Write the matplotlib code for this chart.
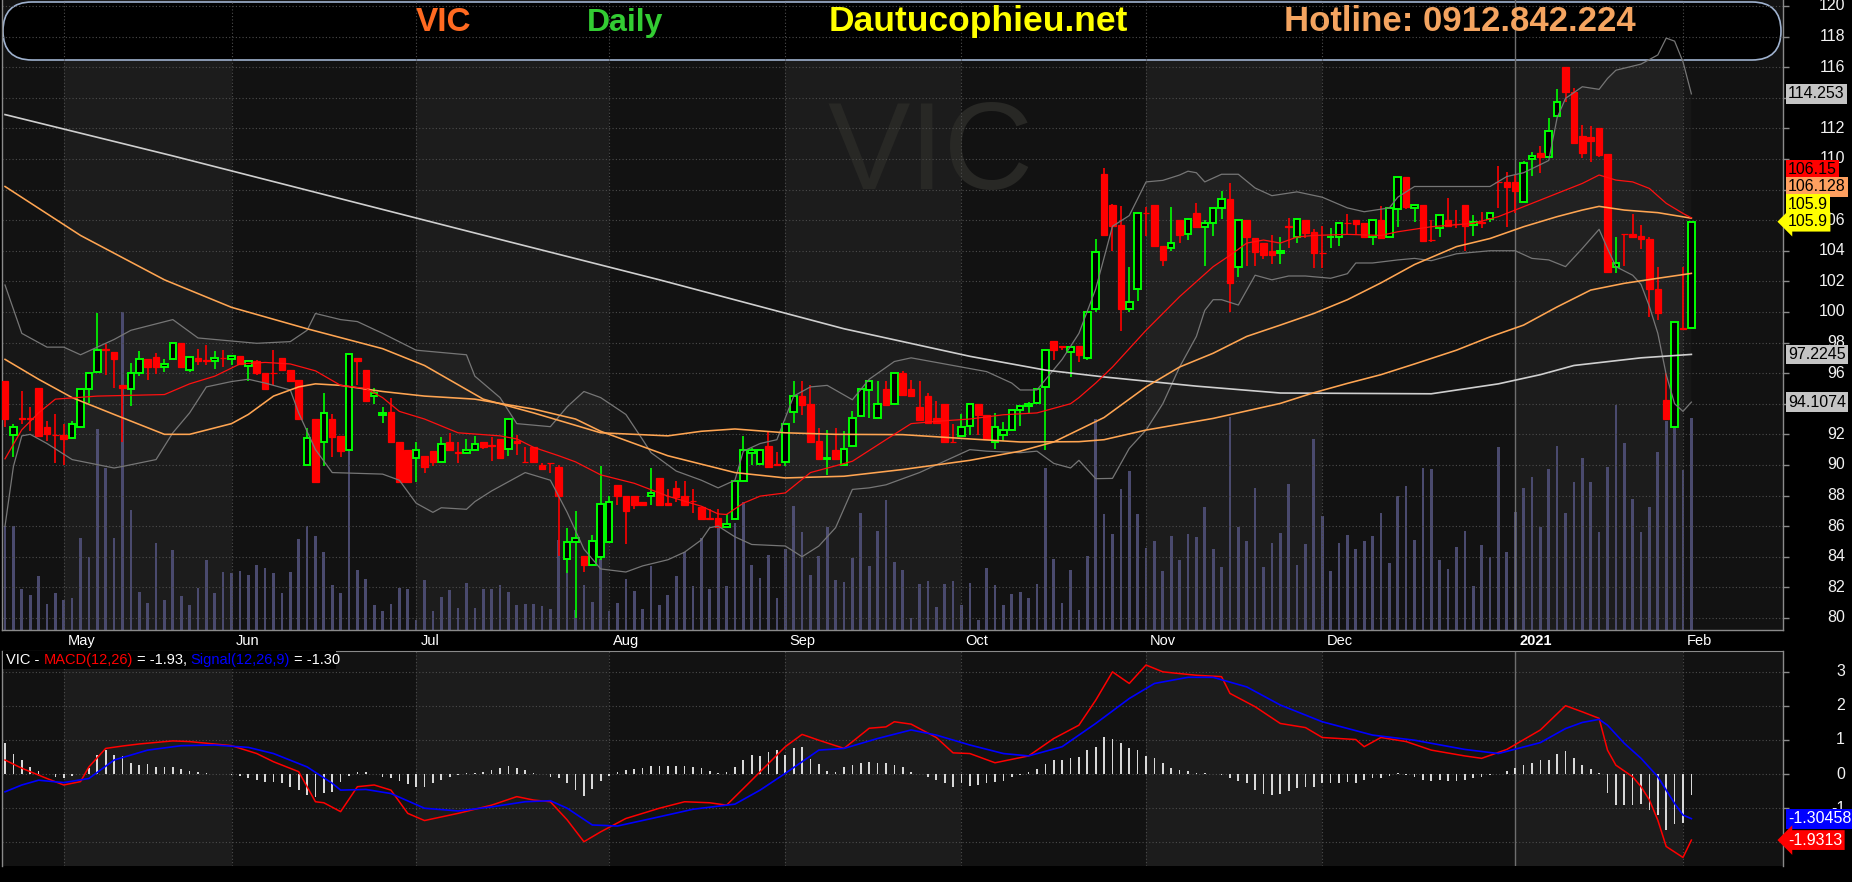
import numpy as np
import matplotlib
matplotlib.use("Agg")
import matplotlib.pyplot as plt
from matplotlib.patches import FancyBboxPatch, Rectangle
from matplotlib.transforms import IdentityTransform, blended_transform_factory

plt.rcParams['font.family'] = ['Liberation Sans', 'DejaVu Sans']

# ---------------- data (VIC daily) ----------------
opens = [95.5, 91.96, 93.05, 93.05, 95.0, 92.5, 91.97, 91.95, 91.75, 92.5,
         94.95, 96.1, 97.55, 97.4, 95.2, 94.95, 96.0, 96.95, 97.05, 96.4,
         96.95, 97.95, 96.2, 97.0, 96.85, 96.8, 97.02, 96.95, 97.15, 96.45,
         96.8, 96.0, 96.02, 97.0, 96.2, 95.55, 89.98, 93.0, 91.5, 93.0,
         91.9, 90.95, 97.0, 96.2, 94.5, 93.25, 93.45, 91.5, 91.0, 90.45,
         90.6, 90.9, 90.2, 91.5, 90.82, 90.8, 90.95, 91.5, 91.27, 91.7,
         91.05, 91.55, 90.22, 91.2, 90.0, 90.12, 89.85, 83.85, 84.95, 84.05,
         83.45, 84.0, 84.98, 88.67, 88.0, 88.0, 87.59, 87.96, 89.15, 87.48,
         88.5, 88.0, 87.65, 87.24, 86.5, 86.54, 85.96, 86.48, 88.98, 90.78,
         90.07, 91.26, 90.04, 90.17, 93.46, 94.52, 93.98, 91.59, 90.41, 91.0,
         90.02, 91.22, 93.17, 94.91, 93.07, 94.96, 93.98, 96.0, 94.96, 93.78,
         94.52, 93.07, 93.98, 91.52, 91.87, 92.52, 93.98, 93.28, 91.5, 91.96,
         92.26, 93.61, 93.83, 94.04, 95.09, 98.07, 97.76, 97.35, 97.78, 96.98,
         100.16, 109.01, 106.98, 105.68, 100.17, 101.47, 106.46, 106.98, 104.3, 104.15,
         106.0, 105.07, 106.44, 105.57, 105.79, 106.77, 107.38, 102.96, 106.0, 104.81,
         104.48, 103.98, 103.87, 105.59, 104.92, 106.0, 105.2, 103.85, 104.88, 104.92,
         105.81, 106.0, 105.79, 104.92, 106.0, 104.87, 106.7, 108.84, 106.77, 106.98,
         104.72, 105.46, 106.01, 105.75, 106.99, 105.66, 105.86, 106.07, 108.49, 108.47,
         108.47, 107.16, 110.0, 110.37, 110.11, 112.8, 116.03, 114.4, 111.5, 111.41,
         112.0, 110.32, 102.96, 105.12, 105.1, 104.96, 104.77, 101.5, 94.24, 92.46,
         98.95, 98.93]
highs = [95.5, 92.7, 94.85, 93.8, 95.0, 92.85, 93.35, 92.7, 92.85, 95.0,
         96.0, 99.95, 97.9, 97.4, 95.2, 96.65, 97.45, 96.95, 97.3, 96.9,
         97.95, 97.95, 97.05, 97.55, 97.85, 97.45, 97.5, 97.15, 97.15, 96.8,
         96.85, 96.0, 97.5, 97.0, 96.2, 95.55, 92.4, 93.0, 94.7, 93.35,
         91.9, 97.25, 97.0, 96.2, 95.0, 93.8, 94.4, 91.5, 91.0, 91.5,
         90.6, 90.9, 91.85, 92.1, 91.5, 91.7, 91.9, 91.5, 91.85, 91.7,
         93.0, 91.95, 91.2, 91.2, 90.15, 90.12, 90.0, 85.9, 87.0, 84.05,
         85.45, 89.9, 87.95, 88.67, 88.0, 88.0, 87.59, 89.8, 89.15, 88.43,
         88.93, 88.93, 88.43, 87.24, 87.09, 87.09, 86.76, 88.93, 91.87, 91.1,
         90.96, 92.2, 90.83, 92.67, 95.5, 95.46, 95.24, 92.41, 92.26, 92.41,
         92.2, 93.54, 94.96, 95.46, 95.46, 95.46, 96.0, 96.15, 95.57, 95.46,
         94.7, 94.15, 93.98, 92.7, 93.33, 93.98, 93.98, 93.28, 93.39, 92.78,
         93.57, 93.83, 94.09, 94.96, 97.48, 98.07, 97.76, 97.74, 97.78, 100.02,
         104.8, 109.38, 107.05, 106.92, 102.91, 106.44, 106.87, 106.98, 104.3, 106.83,
         106.0, 106.11, 107.09, 106.0, 106.77, 107.9, 108.45, 106.0, 106.0, 104.81,
         104.48, 105.03, 104.87, 106.15, 106.11, 106.0, 105.4, 105.6, 105.47, 105.79,
         106.37, 106.0, 105.79, 106.0, 106.92, 106.77, 108.84, 108.84, 107.05, 106.98,
         106.0, 106.33, 107.42, 106.67, 106.99, 106.33, 106.5, 106.49, 109.53, 109.17,
         108.95, 109.88, 110.43, 110.85, 112.7, 114.57, 116.03, 114.62, 112.21, 112.15,
         112.0, 110.32, 104.88, 105.12, 106.41, 105.68, 104.88, 102.92, 95.98, 99.37,
         102.96, 105.9]
lows = [92.5, 90.5, 92.7, 92.2, 91.9, 91.55, 90.1, 90.0, 91.7, 92.5,
        94.05, 96.1, 95.9, 95.0, 91.5, 93.85, 95.8, 95.55, 95.95, 96.1,
        96.95, 96.4, 96.05, 96.55, 96.5, 96.3, 96.4, 96.5, 96.55, 95.5,
        95.9, 94.95, 95.2, 96.2, 95.4, 93.0, 89.9, 88.9, 89.9, 90.5,
        90.5, 90.95, 95.2, 94.15, 94.0, 92.75, 91.5, 88.9, 88.9, 88.9,
        89.5, 89.9, 90.2, 90.95, 90.1, 90.7, 90.95, 91.05, 90.25, 90.45,
        90.6, 90.65, 90.2, 90.2, 89.7, 89.5, 84.05, 82.95, 80.0, 83.0,
        83.45, 83.8, 84.98, 87.4, 84.8, 87.1, 87.3, 87.41, 87.41, 87.37,
        87.57, 87.3, 86.87, 86.48, 86.48, 85.96, 85.96, 86.48, 88.98, 90.0,
        90.07, 89.87, 90.02, 89.91, 92.74, 93.28, 91.48, 90.41, 89.37, 90.41,
        90.02, 91.22, 93.12, 93.07, 93.07, 93.93, 93.93, 94.54, 94.48, 92.96,
        92.74, 92.74, 91.48, 91.5, 91.87, 91.98, 91.98, 91.7, 91.04, 91.54,
        92.26, 92.52, 93.39, 94.04, 91.0, 96.87, 97.48, 95.78, 96.7, 96.83,
        100.0, 105.03, 103.98, 98.77, 100.02, 100.73, 104.96, 104.3, 103.02, 104.0,
        104.48, 104.7, 105.57, 103.02, 104.96, 106.07, 100.02, 102.26, 103.02, 103.02,
        103.44, 103.11, 103.11, 104.15, 104.52, 104.81, 102.85, 102.84, 104.19, 104.3,
        105.02, 105.02, 104.87, 104.37, 104.85, 104.87, 105.52, 106.7, 105.9, 104.59,
        104.54, 104.92, 105.57, 105.46, 104.0, 104.98, 105.46, 105.86, 106.77, 105.53,
        106.44, 107.16, 108.9, 109.06, 110.11, 112.8, 113.74, 111.06, 110.04, 109.82,
        110.15, 102.63, 102.52, 103.0, 104.92, 104.11, 99.65, 99.48, 92.98, 92.46,
        98.85, 98.93]
closes = [93.0, 92.48, 93.0, 93.0, 91.9, 92.0, 91.95, 91.7, 92.7, 94.95,
          96.0, 97.5, 97.5, 96.95, 95.0, 96.0, 96.95, 96.4, 96.4, 96.6,
          97.95, 96.4, 97.05, 96.8, 96.8, 97.0, 97.0, 97.15, 96.6, 96.8,
          96.0, 94.95, 96.0, 96.2, 95.5, 93.0, 91.75, 88.9, 93.4, 91.85,
          90.9, 97.25, 96.8, 94.15, 94.7, 93.4, 91.5, 88.9, 88.9, 91.0,
          89.85, 90.2, 91.35, 90.95, 90.8, 91.0, 91.35, 91.2, 91.25, 90.45,
          93.0, 91.45, 90.2, 90.2, 89.75, 90.1, 87.95, 84.95, 85.2, 83.45,
          85.0, 87.45, 87.57, 88.0, 86.98, 87.41, 87.41, 88.15, 87.41, 87.37,
          87.93, 87.37, 87.63, 86.48, 86.48, 85.96, 86.11, 88.93, 90.96, 90.96,
          90.96, 89.87, 90.02, 92.67, 94.48, 93.93, 91.48, 90.41, 90.43, 90.41,
          91.04, 93.07, 94.96, 95.46, 93.98, 93.93, 96.0, 94.54, 94.48, 92.96,
          92.74, 92.74, 91.48, 91.5, 92.48, 93.98, 93.24, 91.7, 92.48, 92.26,
          93.57, 93.83, 94.0, 94.96, 97.48, 97.52, 97.74, 97.74, 97.2, 100.02,
          103.93, 105.03, 105.61, 100.17, 100.67, 106.44, 106.44, 104.3, 103.39, 104.48,
          105.03, 106.05, 105.57, 105.79, 106.77, 107.38, 101.91, 106.0, 104.87, 103.93,
          103.72, 103.72, 103.98, 105.57, 106.05, 105.18, 103.87, 103.83, 104.9, 105.79,
          105.79, 105.74, 104.87, 106.0, 104.85, 106.77, 108.84, 106.83, 106.98, 104.65,
          104.7, 106.33, 105.64, 105.73, 105.64, 105.86, 105.84, 106.44, 108.47, 108.19,
          107.92, 109.71, 110.19, 110.11, 111.83, 113.74, 114.4, 111.06, 110.37, 111.19,
          110.26, 102.63, 103.22, 105.1, 104.92, 104.74, 101.48, 99.96, 92.98, 99.37,
          98.9, 105.9]
# volume, millions of shares
volume = [2.08, 2.08, 0.82, 0.70, 1.08, 0.52, 0.74, 0.60, 0.64, 1.84,
          1.46, 4.02, 3.24, 1.84, 6.36, 2.40, 0.76, 0.54, 1.74, 0.60,
          1.60, 0.68, 0.50, 0.84, 1.40, 0.74, 1.16, 1.14, 1.18, 1.10,
          1.30, 1.24, 1.14, 0.74, 1.16, 1.82, 2.08, 1.88, 1.56, 0.90,
          0.74, 3.80, 1.20, 1.02, 0.50, 0.38, 0.52, 0.84, 0.82, 0.20,
          1.00, 0.38, 0.66, 0.80, 0.44, 0.94, 0.44, 0.82, 0.82, 0.90,
          0.76, 0.50, 0.52, 0.52, 0.48, 0.42, 1.80, 1.20, 0.40, 0.90,
          0.56, 1.42, 0.38, 0.54, 1.02, 0.78, 0.42, 1.28, 0.50, 0.70,
          1.08, 1.56, 0.88, 1.84, 0.82, 2.04, 0.88, 2.14, 2.56, 1.30,
          1.04, 1.50, 0.64, 1.62, 2.48, 1.96, 1.10, 1.48, 2.06, 1.00,
          0.96, 1.44, 2.34, 1.28, 1.98, 2.60, 1.36, 1.20, 0.24, 0.92,
          0.98, 0.46, 0.92, 0.98, 0.50, 0.94, 0.20, 1.24, 0.90, 0.50,
          0.72, 0.76, 0.64, 0.92, 3.24, 1.42, 0.54, 1.20, 0.40, 1.48,
          4.22, 2.32, 1.92, 2.82, 3.18, 2.32, 1.64, 1.78, 1.18, 1.88,
          1.40, 1.92, 1.86, 2.46, 1.62, 1.26, 4.26, 2.06, 1.78, 2.84,
          1.26, 1.74, 1.94, 2.92, 1.30, 1.72, 3.82, 2.28, 1.18, 1.74,
          1.90, 1.62, 1.78, 1.88, 2.34, 1.34, 2.68, 2.88, 1.80, 3.24,
          3.22, 1.40, 1.22, 1.66, 1.98, 0.88, 1.70, 1.46, 3.66, 1.56,
          2.36, 2.84, 3.06, 2.06, 3.22, 3.68, 2.34, 2.96, 3.44, 2.96,
          1.96, 3.26, 4.50, 3.74, 2.62, 1.96, 2.46, 3.56, 4.18, 4.16,
          3.20, 4.24]

# indicator lines, sampled at bar index
ma20_x = [0, 2, 4, 6, 11, 19, 22, 25, 28, 31, 34, 37, 40, 43, 45, 47, 50, 54, 59, 61, 63,
          66, 68, 71, 75, 79, 83, 85, 86, 88, 90, 93, 96, 101, 105, 108, 111, 115, 119, 123,
          127, 128, 130, 132, 136, 140, 144, 146, 148, 150, 152, 154, 156, 160, 164, 166, 170,
          175, 178, 181, 185, 188, 190, 192, 194, 196, 198, 200, 201]
ma20_y = [90.4, 92.3, 93.4, 94.3, 94.5, 94.6, 95.3, 95.8, 96.6, 96.7, 96.6, 96.15, 95.2,
          95.0, 94.4, 93.5, 93.0, 92.1, 91.9, 91.7, 91.15, 90.6, 90.2, 89.35, 88.8, 87.96,
          87.3, 86.8, 86.76, 87.5, 87.96, 88.17, 89.5, 90.24, 91.65, 92.7, 92.85, 93.0,
          93.28, 93.4, 94.0, 94.4, 95.35, 96.4, 98.8, 101.0, 102.96, 103.7, 104.5, 104.7,
          104.5, 104.9, 105.0, 105.07, 105.0, 105.24, 105.57, 105.79, 106.23, 106.88,
          107.75, 108.4, 108.95, 108.62, 108.5, 108.07, 107.1, 106.44, 106.15]
ma50_x = [0, 4, 8, 13, 19, 22, 27, 29, 32, 35, 37, 40, 45, 50, 56, 63, 68, 71, 79, 87,
          93, 100, 107, 111, 115, 121, 125, 128, 131, 136, 140, 144, 148, 152, 156, 160,
          164, 168, 171, 173, 177, 181, 185, 188, 190, 193, 197, 201]
ma50_y = [96.9, 95.6, 94.4, 93.3, 92.0, 92.0, 92.7, 93.3, 94.5, 95.1, 95.3, 95.2, 94.8,
          94.5, 94.3, 93.65, 93.0, 92.2, 90.6, 89.5, 89.15, 89.26, 89.7, 90.0, 90.3, 90.9,
          91.5, 92.3, 93.1, 95.1, 96.4, 97.3, 98.4, 99.14, 99.9, 100.8, 101.9, 103.1, 103.8,
          104.27, 104.8, 105.57, 106.23, 106.66, 106.9, 106.66, 106.49, 106.128]
ma100_x = [0, 9, 19, 27, 36, 45, 50, 57, 63, 71, 79, 83, 87, 93, 99, 107, 115, 121, 128,
           131, 136, 144, 152, 156, 160, 164, 168, 173, 177, 181, 185, 189, 193, 197, 201]
ma100_y = [108.2, 105.0, 102.1, 100.3, 98.9, 97.6, 96.5, 94.3, 93.4, 92.1, 91.9, 92.2,
           92.35, 92.1, 92.0, 91.98, 91.7, 91.5, 91.52, 91.65, 92.28, 93.04, 94.02, 94.72,
           95.33, 95.9, 96.6, 97.5, 98.37, 99.14, 100.33, 101.43, 101.87, 102.2, 102.52]
ma200_x = [0, 20, 40, 60, 78, 100, 115, 124, 131, 142, 152, 170, 178, 183, 187, 195, 201]
ma200_y = [112.9, 110.2, 107.4, 104.6, 102.1, 98.9, 97.1, 96.2, 95.75, 95.15, 94.7, 94.65,
           95.3, 95.9, 96.5, 97.0, 97.2245]
bbu_x = [0, 2, 5, 7, 9, 13, 15, 20, 23, 27, 30, 34, 36, 37, 40, 42, 45, 49, 55, 56, 59,
         61, 65, 67, 69, 71, 74, 76, 77, 80, 83, 85, 87, 88, 90, 92, 94, 96, 98, 101, 103,
         106, 108, 111, 114, 117, 120, 121, 123, 126, 128, 130, 132, 134, 136, 138, 140,
         141, 142, 143, 145, 147, 149, 151, 154, 157, 160, 162, 165, 166, 168, 177, 179,
         181, 184, 185, 186, 188, 190, 191, 192, 195, 197, 198, 199, 200, 201]
bbu_y = [101.76, 98.6, 97.7, 97.7, 97.2, 98.2, 98.8, 99.5, 98.3, 98.1, 97.95, 98.06, 98.8,
         99.9, 99.5, 99.37, 98.6, 97.5, 97.2, 95.8, 94.4, 92.7, 92.5, 93.8, 94.8, 94.4,
         93.3, 91.65, 90.8, 89.6, 89.0, 88.5, 89.0, 90.9, 91.4, 91.65, 94.5, 95.1, 95.2,
         94.26, 95.6, 96.76, 97.0, 96.7, 96.4, 96.1, 95.35, 94.9, 94.9, 96.9, 98.6, 101.5,
         105.6, 106.3, 108.5, 108.6, 108.95, 109.2, 109.1, 108.5, 109.0, 109.0, 108.1,
         107.6, 107.85, 107.5, 106.8, 106.55, 106.8, 107.5, 108.2, 108.2, 108.85, 109.1,
         109.9, 112.7, 113.96, 114.72, 114.55, 115.26, 115.8, 116.2, 116.8, 117.9, 117.7,
         116.35, 114.253]
bbl_x = [0, 1, 2, 3, 5, 8, 13, 14, 18, 20, 22, 24, 27, 29, 31, 34, 35, 37, 39, 45, 47,
         49, 51, 52, 55, 56, 58, 62, 65, 67, 69, 71, 74, 76, 79, 81, 83, 84, 85, 87, 89,
         93, 95, 97, 99, 101, 103, 105, 109, 111, 115, 117, 121, 123, 125, 127, 128, 130,
         132, 134, 136, 138, 140, 142, 143, 144, 145, 147, 149, 151, 153, 155, 158, 160,
         161, 163, 166, 168, 170, 173, 177, 180, 182, 184, 186, 188, 190, 191, 192, 194,
         195, 196, 197, 198, 199, 200, 201]
bbl_y = [86.0, 89.9, 91.9, 92.0, 91.4, 90.35, 89.8, 89.9, 90.35, 92.1, 93.4, 95.1, 95.45,
         95.6, 95.35, 94.9, 93.4, 91.0, 89.5, 89.4, 89.0, 87.5, 86.9, 87.2, 87.1, 87.6,
         88.3, 89.5, 89.0, 86.9, 84.5, 83.2, 83.0, 83.4, 83.8, 84.3, 85.1, 85.9, 86.0, 85.3,
         84.8, 84.7, 84.0, 84.7, 85.9, 88.4, 88.5, 88.7, 89.5, 90.0, 91.0, 90.9, 90.8,
         90.9, 90.1, 89.8, 90.3, 89.1, 89.12, 91.08, 92.28, 94.0, 96.4, 98.4, 100.1, 100.8,
         100.8, 100.45, 102.4, 102.1, 102.35, 102.35, 102.2, 102.5, 103.2, 103.2, 103.4,
         103.5, 103.35, 103.8, 104.0, 104.0, 103.5, 103.4, 102.96, 104.15, 105.4, 104.15,
         102.96, 102.4, 101.8, 100.35, 98.6, 95.9, 94.0, 93.5, 94.1074]

macd_x = [0, 2, 5, 7, 9, 10, 12, 14, 16, 20, 22, 27, 30, 32, 35, 37, 38, 40, 42, 44, 46,
          48, 50, 54, 58, 61, 63, 65, 67, 69, 71, 74, 78, 81, 84, 86, 89, 93, 95, 97, 100,
          103, 105, 106, 108, 111, 113, 115, 118, 122, 125, 128, 130, 132, 134, 136, 138,
          142, 145, 146, 149, 152, 155, 157, 161, 162, 164, 167, 170, 174, 176, 179, 183,
          186, 188, 190, 191, 192, 194, 195, 196, 197, 198, 200, 201]
macd_y = [0.41, 0.17, -0.13, -0.32, -0.22, 0.21, 0.75, 0.82, 0.88, 0.97, 0.95, 0.83, 0.6,
          0.36, 0.07, -0.81, -0.84, -1.1, -0.37, -0.32, -0.47, -1.15, -1.36, -1.15, -0.91,
          -0.66, -0.76, -0.81, -1.34, -1.98, -1.69, -1.3, -1.0, -0.81, -0.84, -0.91, -0.18,
          0.8, 1.16, 0.99, 0.75, 1.34, 1.38, 1.53, 1.46, 1.07, 0.62, 0.6, 0.33, 0.53, 1.04,
          1.43, 2.16, 2.99, 2.65, 3.19, 2.99, 2.89, 2.85, 2.36, 1.97, 1.48, 1.36, 1.07,
          1.01, 0.8, 1.07, 0.95, 0.7, 0.53, 0.46, 0.72, 1.29, 2.0, 1.82, 1.63, 0.7, 0.26,
          -0.08, -0.37, -0.76, -1.35, -2.12, -2.44, -1.9313]
signal_x = [0, 2, 4, 7, 10, 13, 17, 21, 25, 29, 32, 36, 39, 40, 43, 46, 50, 54, 58, 62,
            65, 67, 70, 73, 78, 82, 87, 90, 93, 97, 100, 104, 108, 111, 115, 119, 122, 126,
            130, 134, 137, 141, 144, 148, 152, 157, 163, 168, 174, 178, 183, 186, 188, 190,
            191, 193, 195, 197, 199, 200, 201]
signal_y = [-0.52, -0.32, -0.18, -0.25, -0.13, 0.41, 0.7, 0.83, 0.85, 0.78, 0.6, 0.21,
            -0.27, -0.47, -0.45, -0.57, -1.0, -1.08, -0.96, -0.81, -0.78, -1.0, -1.49,
            -1.52, -1.25, -1.03, -0.88, -0.47, 0.02, 0.7, 0.75, 1.04, 1.29, 1.14, 0.85, 0.6,
            0.53, 0.8, 1.48, 2.21, 2.65, 2.83, 2.83, 2.55, 2.02, 1.53, 1.14, 0.99, 0.72, 0.6,
            0.92, 1.33, 1.51, 1.6, 1.43, 0.9, 0.46, -0.08, -0.86, -1.2, -1.30458]
macd_hist = [0.92, 0.58, 0.41, 0.21, 0.10, 0.0, -0.08, -0.13, -0.06, 0.0,
             0.17, 0.56, 0.70, 0.56, 0.53, 0.31, 0.26, 0.28, 0.21, 0.20,
             0.21, 0.15, 0.10, 0.07, 0.03, 0.01, 0.0, -0.03, -0.06, -0.13,
             -0.18, -0.22, -0.22, -0.25, -0.37, -0.47, -0.61, -0.66, -0.56, -0.52,
             -0.22, -0.06, 0.06, 0.06, 0.0, -0.08, -0.13, -0.20, -0.30, -0.38,
             -0.37, -0.27, -0.18, -0.08, -0.03, 0.02, 0.04, 0.07, 0.12, 0.17,
             0.23, 0.17, 0.12, 0.04, 0.0, -0.08, -0.13, -0.27, -0.47, -0.64,
             -0.45, -0.20, -0.05, 0.05, 0.12, 0.15, 0.17, 0.23, 0.24, 0.25,
             0.25, 0.24, 0.21, 0.17, 0.10, 0.04, 0.07, 0.21, 0.41, 0.56,
             0.53, 0.65, 0.70, 0.56, 0.75, 0.80, 0.45, 0.30, 0.10, 0.07,
             0.21, 0.26, 0.31, 0.36, 0.33, 0.31, 0.26, 0.21, 0.07, 0.0,
             -0.08, -0.18, -0.27, -0.39, -0.27, -0.35, -0.32, -0.25, -0.22, -0.20,
             -0.10, -0.03, 0.05, 0.15, 0.30, 0.41, 0.41, 0.46, 0.51, 0.70,
             0.80, 1.07, 1.04, 0.90, 0.75, 0.70, 0.53, 0.46, 0.31, 0.17,
             0.12, 0.10, 0.04, 0.02, 0.0, -0.02, -0.12, -0.20, -0.27, -0.47,
             -0.57, -0.61, -0.58, -0.51, -0.42, -0.39, -0.37, -0.27, -0.27, -0.25,
             -0.22, -0.25, -0.18, -0.13, -0.13, -0.06, 0.02, -0.03, -0.08, -0.16,
             -0.19, -0.18, -0.19, -0.19, -0.18, -0.13, -0.08, -0.03, 0.0, 0.10,
             0.19, 0.26, 0.31, 0.41, 0.42, 0.58, 0.67, 0.48, 0.27, 0.16,
             0.03, -0.56, -0.90, -0.92, -0.92, -0.87, -1.04, -1.19, -1.65, -1.45,
             -1.43, -0.62]

month_names = ['May', 'Jun', 'Jul', 'Aug', 'Sep', 'Oct', 'Nov', 'Dec', '2021', 'Feb']
month_bars = [7, 27, 49, 72, 93, 114, 136, 157, 180, 200]

# ---------------- layout ----------------
W, HP = 1852, 882
fig = plt.figure(figsize=(W / 100, HP / 100), dpi=100, facecolor='black')


def rect(x0, y0, x1, y1):
    # pixel box (top-left origin) -> figure fraction
    return [x0 / W, 1 - y1 / HP, (x1 - x0) / W, (y1 - y0) / HP]


ax_bg = fig.add_axes(rect(2, 0, 1783, 630), label='bg')
ax = fig.add_axes(rect(2, 0, 1783, 630), label='price')
ax_m = fig.add_axes(rect(2, 651, 1783, 866), label='macd')

xmin, xmax = -0.36, 211.92
for a in (ax_bg, ax, ax_m):
    a.set_xlim(xmin, xmax)
ax.set_ylim(79.21, 120.39)
ax_bg.set_ylim(0, 12.6)
ax_m.set_ylim(-2.69, 3.6)
ax.patch.set_visible(False)

DARK, LIGHT = '#121212', '#1c1c1c'
GRID = '#4c4c4c'
edges = [xmin] + month_bars + [xmax]
for a in (ax_bg, ax_m):
    a.set_facecolor(DARK)
    for k in range(len(edges) - 1):
        if k % 2 == 1:
            a.axvspan(edges[k], edges[k + 1], color=LIGHT, lw=0, zorder=0)

# grid
for v in range(80, 121, 2):
    ax.axhline(v, color=GRID, lw=0.8, ls=(0, (1, 2)), zorder=1)
for v in range(-2, 4):
    ax_m.axhline(v, color=GRID, lw=0.8, ls=(0, (1, 2)), zorder=1)
for m, name in zip(month_bars, month_names):
    for a in (ax, ax_m):
        if name == '2021':
            a.axvline(m, color='#6e6e6e', lw=1.0, zorder=1)
        else:
            a.axvline(m, color=GRID, lw=0.8, ls=(0, (1, 2)), zorder=1)

# header pill
hdr = FancyBboxPatch((3, HP - 60), 1778, 58, boxstyle='round,pad=0,rounding_size=29',
                     transform=IdentityTransform(), facecolor='black',
                     edgecolor='#9fb2cf', lw=1.2, zorder=0.6)
ax.add_patch(hdr)

# watermark
ax.text(827 / W, 1 - 189 / HP, 'VIC', transform=fig.transFigure, fontsize=89,
        color='#282825', va='baseline', ha='left', zorder=0.7)

# Bollinger fill
ax.fill(np.r_[bbu_x, bbl_x[::-1]], np.r_[bbu_y, bbl_y[::-1]], color='white',
        alpha=0.025, lw=0, zorder=0.8)

# volume
idx = np.arange(len(closes))
ax_bg.bar(idx, volume, width=0.32, color='#4a4a6e', zorder=2)

# candles
o, h, l, c = map(np.array, (opens, highs, lows, closes))
up = c >= o
ax.vlines(idx, l, h, colors=np.where(up, '#00ff00', '#ff0000'), lw=1.2, zorder=5)
ax.bar(idx[up], c[up] - o[up], bottom=o[up], width=0.78, facecolor='black',
       edgecolor='#00ff00', lw=1.4, zorder=6)
ax.bar(idx[~up], o[~up] - c[~up], bottom=c[~up], width=0.78, facecolor='#ff0000',
       edgecolor='#ff0000', lw=0.9, zorder=6)

# moving averages and bands
ax.plot(bbu_x, bbu_y, color='#767676', lw=0.9, zorder=7)
ax.plot(bbl_x, bbl_y, color='#767676', lw=0.9, zorder=7)
ax.plot(ma200_x, ma200_y, color='#cfcfcf', lw=1.2, zorder=7)
ax.plot(ma100_x, ma100_y, color='#ffa552', lw=1.15, zorder=7)
ax.plot(ma50_x, ma50_y, color='#ffa552', lw=1.15, zorder=7)
ax.plot(ma20_x, ma20_y, color='#ff1010', lw=0.9, zorder=7)

# MACD panel
ax_m.bar(idx, macd_hist, width=0.2, color='#d8d8d8', zorder=3)
ax_m.plot(macd_x, macd_y, color='#ff0000', lw=1.1, zorder=5)
ax_m.plot(signal_x, signal_y, color='#0000ff', lw=1.2, zorder=5)

# spines / ticks
for s in ax_bg.spines.values():
    s.set_visible(False)
ax_bg.set_xticks([])
ax_bg.set_yticks([])
for a, ticks in ((ax, range(80, 121, 2)), (ax_m, range(-2, 4))):
    a.spines['top'].set_visible(False)
    a.spines['bottom'].set_visible(a is ax)
    for s in ('left', 'right', 'bottom'):
        a.spines[s].set_color('#8a8a8a')
        a.spines[s].set_linewidth(1.0)
    a.set_xticks([])
    a.yaxis.tick_right()
    a.set_yticks(list(ticks))
    a.tick_params(axis='y', length=4, width=1, color='#8a8a8a', labelright=False)
ax_m.spines['top'].set_visible(True)
ax_m.spines['top'].set_color('#8a8a8a')

# right axis labels (those fully covered by value tags are left out)
covered = {114, 108, 94, -2}
for a, ticks in ((ax, range(80, 121, 2)), (ax_m, range(-2, 4))):
    tr = blended_transform_factory(fig.transFigure, a.transData)
    for v in ticks:
        if v in covered:
            continue
        a.text(1845 / W, v, str(v), transform=tr, ha='right', va='center',
               color='#f2f2f2', fontsize=11.5, clip_on=False, zorder=3)


def tag(a, val, txt, fc, tc='black', dy=0.0, arrow=False):
    style = 'larrow,pad=0.15' if arrow else 'square,pad=0.15'
    a.annotate(txt, xy=(1, val), xycoords=('axes fraction', 'data'),
               xytext=(3.6, dy), textcoords='offset points', ha='left', va='center',
               fontsize=11.5, color=tc, annotation_clip=False, zorder=12,
               bbox=dict(boxstyle=style, fc=fc, ec='none'))


fmt = lambda v: '%.6g' % v
tag(ax, bbu_y[-1], fmt(bbu_y[-1]), '#c4c4c4')
tag(ax, closes[-1], fmt(ma20_y[-1]), '#ff0000', dy=37.5)
tag(ax, closes[-1], fmt(ma50_y[-1]), '#ffa060', dy=25.0)
tag(ax, closes[-1], fmt(closes[-1]), '#ffff00', dy=12.5)
tag(ax, closes[-1], fmt(closes[-1]), '#ffff00', arrow=True)
tag(ax, ma200_y[-1], fmt(ma200_y[-1]), '#c4c4c4')
tag(ax, bbl_y[-1], fmt(bbl_y[-1]), '#c4c4c4')
tag(ax_m, signal_y[-1], fmt(signal_y[-1]), '#0000ff', tc='white')
tag(ax_m, macd_y[-1], fmt(macd_y[-1]), '#ff0000', tc='white', arrow=True)

# month labels in the strip under the price panel
for m, name in zip(month_bars, month_names):
    ax.annotate(name, xy=(m, 0), xycoords=('data', 'axes fraction'), xytext=(3, -8),
                textcoords='offset points', ha='left', va='center', color='white',
                fontsize=10.5, fontweight='bold' if name == '2021' else 'normal',
                annotation_clip=False)

# MACD caption
ax_m.add_patch(Rectangle((3 / W, 1 - 669 / HP), 333 / W, 18 / HP, transform=fig.transFigure,
                         facecolor='black', lw=0, zorder=20, clip_on=False))
pieces = [('VIC -', 'white'), ('MACD(12,26)', '#ff0000'),
          ('= %.2f,' % macd_y[-1], 'white'), ('Signal(12,26,9)', '#0000ff'),
          ('= %.2f' % signal_y[-1], 'white')]
t = ax_m.text(6 / W, 1 - 660 / HP, pieces[0][0], transform=fig.transFigure, color='white',
              fontsize=10.5, va='center', ha='left', zorder=21)
for s, col in pieces[1:]:
    t = ax_m.annotate(s, xy=(1, 0), xycoords=t, xytext=(2.9, 0), textcoords='offset points',
                      va='bottom', ha='left', color=col, fontsize=10.5, zorder=21,
                      annotation_clip=False)

# header texts
base = 1 - 31 / HP
fig.text(416 / W, base, 'VIC', color='#ff6a21', fontsize=24, fontweight='bold', va='baseline')
fig.text(587 / W, base, 'Daily', color='#33cc33', fontsize=23, fontweight='bold', va='baseline')
fig.text(829 / W, base, 'Dautucophieu.net', color='#ffff00', fontsize=25.5,
         fontweight='bold', va='baseline')
fig.text(1284 / W, base, 'Hotline: 0912.842.224', color='#f4a460', fontsize=25,
         fontweight='bold', va='baseline')

fig.savefig('out.png', dpi=100, facecolor='black')
